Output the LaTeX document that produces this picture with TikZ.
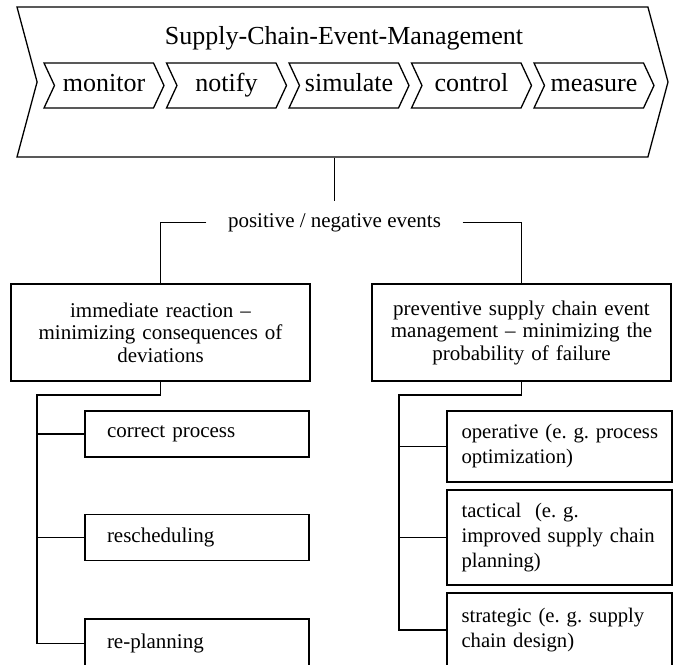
\documentclass[tikz,border=0pt]{standalone}
\usepackage{fontspec}
\setmainfont{Liberation Serif}
\usetikzlibrary{positioning,shapes.symbols}

\tikzset{
  phase/.style={draw, signal, signal to=east, signal from=west,
    signal pointer angle=130, minimum width=120, minimum height=45,
    inner sep=0, font=\fontsize{26}{28}\selectfont,
    text height=17.5pt, text depth=5.5pt},
  evtext/.style={inner xsep=21, inner ysep=12, font=\fontsize{21}{23}\selectfont},
  mainbox/.style={draw, minimum width=299, minimum height=97, inner xsep=10,
    text width=279, align=center, font=\fontsize{21}{22.5}\selectfont},
  leftleaf/.style={draw, minimum height=46, inner xsep=22, text width=180,
    align=left, font=\fontsize{21}{23}\selectfont},
  rightleaf/.style={draw, inner xsep=14.5, text width=196,
    align=left, font=\fontsize{20.7}{25}\selectfont},
}

\begin{document}
\begin{tikzpicture}[x=1pt,y=-1pt,line width=1.3pt]
	\useasboundingbox (0,0) rectangle (679,664);
	\fill[white] (0,0) rectangle (679,664);
	
	% outer chevron
	\node[draw, signal, signal to=east, signal from=west, signal pointer angle=150,
	  minimum width=651, minimum height=150, inner sep=0] (scem) at (342.5,82) {};
	\node[font=\fontsize{26}{28}\selectfont] (title) at (344,38.5) {Supply-Chain-Event-Management};
	
	% phases
	\foreach \lbl [count=\i] in {monitor,notify,simulate,control,measure}
		\node[phase] (p\i) at ({104+122.5*(\i-1)},85.5) {\lbl};
	
	% events
	\node[evtext] (evt) at (334.5,222.5) {positive / negative events};
	\draw (scem.south -| evt.north) -- (evt.north);
	
	% two kinds of reaction
	\node[mainbox] (react) at (160.5,332.5) {immediate reaction \textendash\\ minimizing consequences of\\ deviations};
	\node[mainbox] (prev) at (521.5,332.5) {preventive supply chain event\\ management \textendash\ minimizing the\\ probability of failure};
	\draw (evt.west) -| (react.north);
	\draw (evt.east) -| (prev.north);
	
	% left leaves
	\node[leftleaf] (lc1) at (197,434) {correct process};
	\node[leftleaf] (lc2) at (197,537.5) {rescheduling};
	\node[leftleaf, minimum height=49] (lc3) at (197,643.5) {re-planning};
	\coordinate (ltrunk) at (37,395);
	\draw (react.south) |- (ltrunk) |- (lc3.west);
	\draw (ltrunk |- lc1.west) -- (lc1.west);
	\draw (ltrunk |- lc2.west) -- (lc2.west);
	
	% right leaves
	\node[rightleaf, minimum height=71] (rc1) at (559.5,446.5) {\mbox{operative (e.\ g.\ process}\\ optimization)};
	\node[rightleaf, minimum height=95] (rc2) at (559.5,537.5) {tactical~ (e.\ g.\\ improved supply chain\\ planning)};
	\node[rightleaf, minimum height=74] (rc3) at (559.5,630) {\mbox{strategic (e.\ g.\ supply}\\ chain design)};
	\coordinate (rtrunk) at (399,395);
	\draw (prev.south) |- (rtrunk) |- (rc3.west);
	\draw (rtrunk |- rc1.west) -- (rc1.west);
	\draw (rtrunk |- rc2.west) -- (rc2.west);
\end{tikzpicture}
\end{document}
